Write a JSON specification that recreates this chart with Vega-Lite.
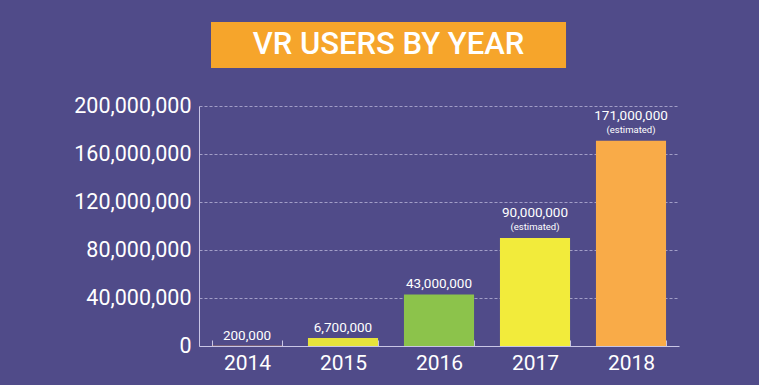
{
  "$schema": "https://vega.github.io/schema/vega-lite/v6.json",
  "background": "#504B89",
  "padding": {"left": 73, "top": 22, "right": 80, "bottom": 12},
  "config": {"font": "Roboto", "view": {"stroke": null}},
  "spacing": 27,
  "vconcat": [
    {
      "width": 480,
      "height": 46,
      "data": {"values": [{"title": "VR USERS BY YEAR"}]},
      "encoding": {
        "x": {"field": "title", "type": "nominal", "axis": null,
          "scale": {"paddingInner": 0, "paddingOuter": 0.176, "align": 0.096}}
      },
      "layer": [
        {"mark": {"type": "bar", "color": "#F6A52B"}},
        {"mark": {"type": "text", "font": "Roboto", "fontWeight": 500, "fontSize": 31, "color": "#FFFFFF", "baseline": "middle", "align": "center"},
          "encoding": {"text": {"field": "title"}}}
      ]
    },
    {
      "width": 480,
      "height": 240,
      "data": {"values": [
        {"year": "2014", "users": 200000, "label": "200,000", "est": false, "color": "#F0A04E"},
        {"year": "2015", "users": 6700000, "label": "6,700,000", "est": false, "color": "#E6E23A"},
        {"year": "2016", "users": 43000000, "label": "43,000,000", "est": false, "color": "#8CC34B"},
        {"year": "2017", "users": 90000000, "label": "90,000,000", "est": true, "color": "#F2EB3B"},
        {"year": "2018", "users": 171000000, "label": "171,000,000", "est": true, "color": "#F9AB48"}
      ]},
      "encoding": {
        "x": {"field": "year", "type": "nominal", "sort": null,
          "scale": {"paddingInner": 0.27, "paddingOuter": 0.135},
          "axis": {"title": null, "labelAngle": 0, "labelColor": "#FFFFFF", "labelFontSize": 21, "labelPadding": 12,
            "domainColor": "#C9C6E6", "tickColor": "#C9C6E6", "tickBand": "extent", "tickSize": -6, "labelFont": "Roboto"}},
        "y": {"field": "users", "type": "quantitative",
          "scale": {"domain": [0, 200000000], "nice": false},
          "axis": {"title": null, "values": [0, 40000000, 80000000, 120000000, 160000000, 200000000], "format": ",.0f",
            "labelColor": "#FFFFFF", "labelFontSize": 21.5, "labelPadding": 8, "labelFont": "Roboto",
            "domainColor": "#C9C6E6", "ticks": false,
            "gridColor": "#D8D6F0", "gridOpacity": 0.6, "gridDash": [3, 2]}}
      },
      "layer": [
        {"mark": {"type": "bar"}, "encoding": {"color": {"field": "color", "type": "nominal", "scale": null, "legend": null}}},
        {"transform": [{"filter": "!datum.est"}],
          "mark": {"type": "text", "color": "#FFFFFF", "fontSize": 13.5, "baseline": "middle", "dy": -10},
          "encoding": {"text": {"field": "label"}}},
        {"transform": [{"filter": "datum.est"}],
          "mark": {"type": "text", "color": "#FFFFFF", "fontSize": 13.5, "baseline": "middle", "dy": -25},
          "encoding": {"text": {"field": "label"}}},
        {"transform": [{"filter": "datum.est"}],
          "mark": {"type": "text", "color": "#FFFFFF", "fontSize": 9.5, "baseline": "middle", "dy": -11},
          "encoding": {"text": {"value": "(estimated)"}}}
      ]
    }
  ]
}
